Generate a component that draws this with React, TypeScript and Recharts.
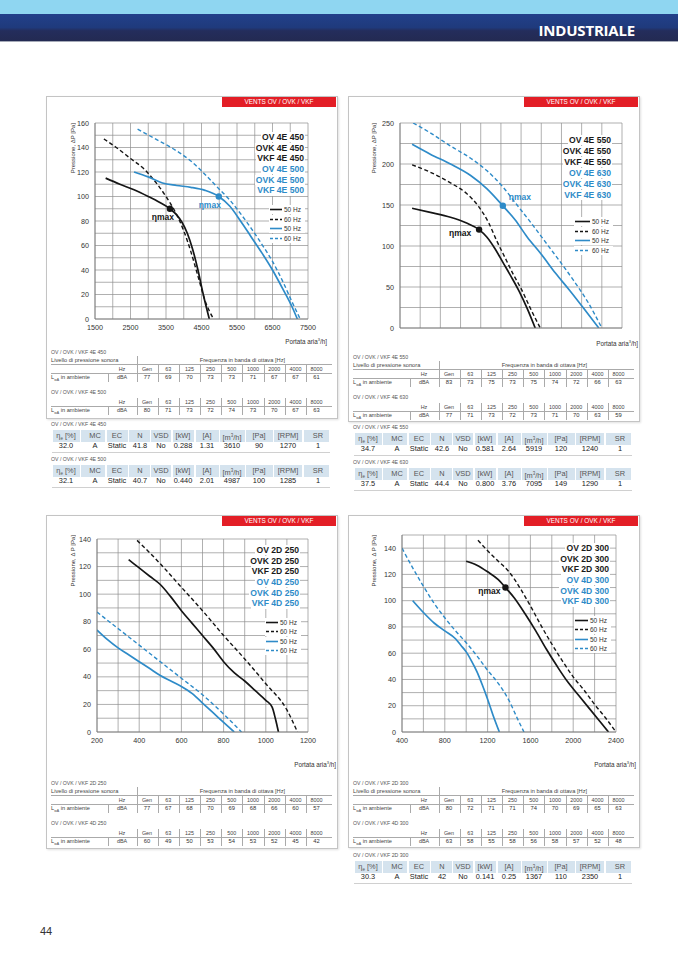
import React from "react";
import { LineChart, Line, XAxis, YAxis, CartesianGrid, ReferenceDot } from "recharts";

const FONT = "'Liberation Sans', Arial, Helvetica, sans-serif";
const BLACK = "#151515";
const BLUE = "#2e8bc8";
const PAGE_W = 678;

// ---- chart 1: OV / OVK / VKF 4E 450 (black) and 4E 500 (blue) ----
const c1Black50 = [[1800, 115], [2200, 110], [2600, 105.5], [3000, 100], [3300, 95.5], [3610, 90], [3800, 85], [3950, 79], [4100, 70], [4250, 57], [4400, 40], [4550, 20], [4720, 0]];
const c1Black60 = [[1750, 147], [2100, 140], [2500, 131], [2900, 122], [3200, 112], [3500, 100], [3750, 88], [4000, 72], [4200, 55], [4400, 35], [4600, 15], [4840, 0]];
const c1Blue50 = [[2600, 120], [3000, 116], [3400, 111], [3800, 109], [4200, 107.5], [4600, 105], [4987, 100], [5300, 92], [5600, 80], [5900, 67], [6200, 54], [6500, 40], [6800, 24], [7050, 10], [7200, 0]];
const c1Blue60 = [[2700, 155], [3200, 147], [3700, 139], [4200, 129], [4600, 118], [5000, 106], [5300, 97], [5600, 86], [5900, 74], [6200, 61], [6500, 47], [6800, 30], [7050, 14], [7280, 0]];
const c1XTicks = [1500, 2000, 2500, 3000, 3500, 4000, 4500, 5000, 5500, 6000, 6500, 7000, 7500];
const c1YTicks = [0, 10, 20, 30, 40, 50, 60, 70, 80, 90, 100, 110, 120, 130, 140, 150, 160];
const c1Models = ["OV 4E 450", "OVK 4E 450", "VKF 4E 450", "OV 4E 500", "OVK 4E 500", "VKF 4E 500"];

// ---- chart 2: 4E 550 (black) and 4E 630 (blue) ----
const c2Black50 = [[2600, 146], [3500, 141], [4500, 135], [5300, 128], [5919, 120], [6300, 111], [6700, 97], [7100, 80], [7500, 63], [7900, 45], [8300, 24], [8700, 0]];
const c2Black60 = [[2600, 199], [3500, 190], [4500, 177], [5300, 164], [5900, 148], [6400, 128], [6800, 106], [7200, 86], [7600, 66], [8000, 48], [8500, 22], [8950, 0]];
const c2Blue50 = [[2600, 224], [3500, 212], [4500, 200], [5500, 186], [6300, 170], [7095, 149], [7700, 132], [8300, 111], [9000, 90], [9700, 67], [10400, 46], [11100, 24], [11850, 0]];
const c2Blue60 = [[2650, 250], [3500, 238], [4500, 222], [5500, 207], [6300, 192], [7100, 172], [7800, 150], [8500, 128], [9200, 105], [9900, 82], [10600, 58], [11300, 32], [12000, 0]];
const c2XTicks = [2000, 3000, 4000, 5000, 6000, 7000, 8000, 9000, 10000, 11000, 12000, 13000];
const c2YTicks = [0, 25, 50, 75, 100, 125, 150, 175, 200, 225, 250];
const c2Models = ["OV 4E 550", "OVK 4E 550", "VKF 4E 550", "OV 4E 630", "OVK 4E 630", "VKF 4E 630"];

// ---- chart 3: 2D 250 (black) and 4D 250 (blue) ----
const c3Black50 = [[350, 125], [400, 119], [450, 113], [500, 107], [550, 98], [600, 88], [650, 79], [700, 70], [750, 61], [800, 51], [850, 43], [900, 37], [950, 30], [1000, 23], [1030, 18], [1045, 10], [1060, 0]];
const c3Black60 = [[390, 139], [450, 130], [500, 122], [600, 105], [700, 88], [800, 70], [900, 53], [1000, 35], [1100, 16], [1150, 0]];
const c3Blue50 = [[200, 74], [250, 67], [300, 61], [350, 56], [400, 51], [450, 46], [500, 41], [550, 37], [600, 33], [650, 28], [700, 21], [750, 14], [800, 7], [850, 0]];
const c3Blue60 = [[200, 87], [300, 75], [400, 63], [500, 51], [600, 39], [700, 27], [800, 13], [885, 0]];
const c3XTicks = [200, 300, 400, 500, 600, 700, 800, 900, 1000, 1100, 1200];
const c3YTicks = [0, 10, 20, 30, 40, 50, 60, 70, 80, 90, 100, 110, 120, 130, 140];
const c3Models = ["OV 2D 250", "OVK 2D 250", "VKF 2D 250", "OV 4D 250", "OVK 4D 250", "VKF 4D 250"];

// ---- chart 4: 2D 300 (black) and 4D 300 (blue) ----
const c4Black50 = [[1000, 130], [1100, 127], [1200, 122], [1300, 116], [1367, 110], [1450, 102], [1550, 90], [1650, 77], [1750, 63], [1850, 50], [1950, 38], [2050, 28], [2150, 18], [2250, 8], [2330, 0]];
const c4Black60 = [[1110, 146], [1200, 138], [1300, 130], [1400, 122], [1500, 110], [1600, 96], [1700, 81], [1800, 67], [1900, 54], [2000, 42], [2100, 32], [2200, 21], [2300, 11], [2400, 0]];
const c4Blue50 = [[500, 100], [600, 91], [700, 83], [800, 77], [900, 71], [950, 66], [1000, 61], [1050, 54], [1100, 46], [1150, 36], [1200, 25], [1250, 13], [1310, 0]];
const c4Blue60 = [[400, 140], [500, 125], [600, 111], [700, 98], [800, 87], [900, 77], [1000, 68], [1100, 58], [1200, 47], [1300, 37], [1400, 24], [1480, 10], [1540, 0]];
const c4XTicks = [400, 600, 800, 1000, 1200, 1400, 1600, 1800, 2000, 2200, 2400];
const c4YTicks = [0, 10, 20, 30, 40, 50, 60, 70, 80, 90, 100, 110, 120, 130, 140, 150];
const c4Models = ["OV 2D 300", "OVK 2D 300", "VKF 2D 300", "OV 4D 300", "OVK 4D 300", "VKF 4D 300"];

// ---- sound pressure tables ----
const bands = ["Gen", "63", "125", "250", "500", "1000", "2000", "4000", "8000"];
const snd4E450 = [77, 69, 70, 73, 73, 71, 67, 67, 61];
const snd4E500 = [80, 71, 73, 72, 74, 73, 70, 67, 63];
const snd4E550 = [83, 73, 75, 73, 75, 74, 72, 66, 63];
const snd4E630 = [77, 71, 73, 72, 73, 71, 70, 63, 59];
const snd2D250 = [77, 67, 68, 70, 69, 68, 66, 60, 57];
const snd4D250 = [60, 49, 50, 53, 54, 53, 52, 45, 42];
const snd2D300 = [80, 72, 71, 71, 74, 70, 69, 65, 63];
const snd4D300 = [63, 58, 55, 58, 56, 58, 57, 52, 48];

// ---- efficiency tables ----
const eff4E450 = ["32.0", "A", "Static", "41.8", "No", "0.288", "1.31", "3610", "90", "1270", "1"];
const eff4E500 = ["32.1", "A", "Static", "40.7", "No", "0.440", "2.01", "4987", "100", "1285", "1"];
const eff4E550 = ["34.7", "A", "Static", "42.6", "No", "0.581", "2.64", "5919", "120", "1240", "1"];
const eff4E630 = ["37.5", "A", "Static", "44.4", "No", "0.800", "3.76", "7095", "149", "1290", "1"];
const eff2D300 = ["30.3", "A", "Static", "42", "No", "0.141", "0.25", "1367", "110", "2350", "1"];

const EFF_COLS = [20, 49, 71, 94, 115, 137, 161, 186, 213, 242, 272];
const SND_COL0 = 101;
const SND_STEP = 21.2;

type Series = { data: number[][]; color: string; dashed: boolean };
type Eta = { x: number; y: number; color: string; dx: number; dy: number };
type ChartCfg = {
  plotX: number; plotY: number; plotW: number; plotH: number;
  xDomain: [number, number]; xTicks: number[]; xStart: number; xLabelStep: number;
  yDomain: [number, number]; yTicks: number[]; yLabelStep: number; yMaxLabel: number;
  series: Series[]; etas: Eta[];
};

const seriesOf = (b50: number[][], b60: number[][], u50: number[][], u60: number[][]): Series[] => [
  { data: b50, color: BLACK, dashed: false },
  { data: b60, color: BLACK, dashed: true },
  { data: u50, color: BLUE, dashed: false },
  { data: u60, color: BLUE, dashed: true },
];

const chart1: ChartCfg = {
  plotX: 95, plotY: 123, plotW: 213, plotH: 196,
  xDomain: [1500, 7500], xTicks: c1XTicks, xStart: 1500, xLabelStep: 1000,
  yDomain: [0, 160], yTicks: c1YTicks, yLabelStep: 20, yMaxLabel: 160,
  series: seriesOf(c1Black50, c1Black60, c1Blue50, c1Blue60),
  etas: [
    { x: 3610, y: 90, color: BLACK, dx: -7, dy: 9 },
    { x: 4987, y: 100, color: BLUE, dx: -9, dy: 9.5 },
  ],
};
const chart2: ChartCfg = {
  plotX: 400, plotY: 123, plotW: 222, plotH: 205,
  xDomain: [2000, 13000], xTicks: c2XTicks, xStart: 2000, xLabelStep: 0,
  yDomain: [0, 250], yTicks: c2YTicks, yLabelStep: 50, yMaxLabel: 250,
  series: seriesOf(c2Black50, c2Black60, c2Blue50, c2Blue60),
  etas: [
    { x: 5919, y: 120, color: BLACK, dx: -19, dy: 4.5 },
    { x: 7095, y: 149, color: BLUE, dx: 17, dy: -8 },
  ],
};
const chart3: ChartCfg = {
  plotX: 97, plotY: 539, plotW: 211, plotH: 193,
  xDomain: [200, 1200], xTicks: c3XTicks, xStart: 200, xLabelStep: 200,
  yDomain: [0, 140], yTicks: c3YTicks, yLabelStep: 20, yMaxLabel: 140,
  series: seriesOf(c3Black50, c3Black60, c3Blue50, c3Blue60),
  etas: [],
};
const chart4: ChartCfg = {
  plotX: 402, plotY: 535, plotW: 214, plotH: 197,
  xDomain: [400, 2400], xTicks: c4XTicks, xStart: 400, xLabelStep: 400,
  yDomain: [0, 150], yTicks: c4YTicks, yLabelStep: 20, yMaxLabel: 140,
  series: seriesOf(c4Black50, c4Black60, c4Blue50, c4Blue60),
  etas: [{ x: 1367, y: 110, color: BLACK, dx: -16, dy: 4.5 }],
};

function Txt({ x, y, children, size = 5.5, anchor = "middle", color = "#444", bold = false, bg }: any) {
  const style: any = {
    position: "absolute", top: y - size * 0.6, fontSize: size, lineHeight: `${size * 1.2}px`,
    whiteSpace: "nowrap", color, fontWeight: bold ? 700 : 400,
  };
  if (bg) { style.background = bg; style.padding = "0 1px"; }
  if (anchor === "middle") { style.left = x; style.transform = "translateX(-50%)"; }
  else if (anchor === "start") style.left = x;
  else style.right = PAGE_W - x;
  return <div style={style}>{children}</div>;
}

function Rule({ x, y, w, h, color = "#aaaaaa" }: any) {
  return <div style={{ position: "absolute", left: x, top: y, width: w, height: h, background: color }} />;
}

function etaLabel(dx: number, dy: number, color: string) {
  return (props: any) => {
    const vb = props.viewBox || {};
    const cx = (vb.x ?? 0) + (vb.width ?? 0) / 2;
    const cy = (vb.y ?? 0) + (vb.height ?? 0) / 2;
    return (
      <text x={cx + dx} y={cy + dy} fill={color} fontSize={8.5} fontWeight="bold" fontFamily={FONT}
        textAnchor="middle" dominantBaseline="middle">ηmax</text>
    );
  };
}

function PerfChart({ c }: { c: ChartCfg }) {
  const yW = 24, xH = 17, mt = 6, mr = 14;
  const w = c.plotW + yW + mr;
  const h = c.plotH + mt + xH;
  const tick = { fontSize: 7.2, fill: "#333", fontFamily: FONT };
  const axisLine = { stroke: "#7a7a7a", strokeWidth: 0.8 };
  return (
    <div style={{ position: "absolute", left: c.plotX - yW, top: c.plotY - mt, width: w, height: h }}>
      <LineChart width={w} height={h} margin={{ top: mt, right: mr, bottom: 0, left: 0 }}>
        <CartesianGrid stroke="#8e8e8e" strokeWidth={0.7} />
        <XAxis type="number" dataKey="x" domain={c.xDomain} ticks={c.xTicks} interval={0} allowDataOverflow
          height={xH} tickSize={0} tickMargin={5.5} axisLine={axisLine} tickLine={false} tick={tick}
          tickFormatter={(v: number) => (c.xLabelStep && (v - c.xStart) % c.xLabelStep === 0 ? String(v) : "")} />
        <YAxis type="number" domain={c.yDomain} ticks={c.yTicks} interval={0} allowDataOverflow
          width={yW} tickSize={0} tickMargin={6} axisLine={axisLine} tickLine={false} tick={tick}
          tickFormatter={(v: number) => (v % c.yLabelStep === 0 && v <= c.yMaxLabel ? String(v) : "")} />
        {c.series.map((s, i) => (
          <Line key={i} data={s.data.map(([x, y]) => ({ x, y }))} dataKey="y" type="monotone"
            stroke={s.color} strokeWidth={s.dashed ? 1.4 : 1.7}
            strokeDasharray={s.dashed ? "4 2.6" : undefined}
            dot={false} activeDot={false} isAnimationActive={false} />
        ))}
        {c.etas.map((e, i) => (
          <ReferenceDot key={i} x={e.x} y={e.y} r={3.2} fill={e.color} stroke="none"
            label={etaLabel(e.dx, e.dy, e.color)} />
        ))}
      </LineChart>
    </div>
  );
}

function ChartLegend({ right, top, step, models, rows, sampleX, sampleW }: any) {
  const hz = [
    { t: "50 Hz", color: BLACK, dashed: false },
    { t: "60 Hz", color: BLACK, dashed: true },
    { t: "50 Hz", color: BLUE, dashed: false },
    { t: "60 Hz", color: BLUE, dashed: true },
  ];
  return (
    <>
      {models.map((m: string, i: number) => (
        <Txt key={m} x={right} y={top + i * step} anchor="end" size={8.6} bold bg="#fff"
          color={i < 3 ? "#1a1a1a" : BLUE}>{m}</Txt>
      ))}
      {hz.map((r, i) => (
        <div key={i} style={{ position: "absolute", left: sampleX - 1, top: rows[i] - 4.5, height: 9, width: sampleW + 24, background: "#fff" }}>
          <svg width={sampleW} height={9} style={{ position: "absolute", left: 1, top: 0 }}>
            <line x1={0} y1={4.5} x2={sampleW} y2={4.5} stroke={r.color} strokeWidth={1.6}
              strokeDasharray={r.dashed ? "3 2" : undefined} />
          </svg>
          <div style={{ position: "absolute", left: sampleW + 3, top: 0, fontSize: 6.5, lineHeight: "9px", color: "#333", whiteSpace: "nowrap" }}>{r.t}</div>
        </div>
      ))}
    </>
  );
}

function AxisTitles({ yx, yTop, yText, xRight, xY }: any) {
  return (
    <>
      <div style={{
        position: "absolute", left: yx - 3.5, top: yTop, fontSize: 6, lineHeight: "7px", color: "#333",
        writingMode: "vertical-rl", transform: "rotate(180deg)", whiteSpace: "nowrap",
      }}>{yText}</div>
      <Txt x={xRight} y={xY} anchor="end" size={6.3} color="#333">Portata aria<sup style={{ fontSize: 4 }}>3</sup>/h]</Txt>
    </>
  );
}

function Panel({ x, y, w, h }: any) {
  return (
    <>
      <div style={{ position: "absolute", left: x, top: y, width: w, height: h, border: "1px solid #c4c4c4", boxSizing: "border-box", boxShadow: "1px 1px 2px rgba(0,0,0,0.12)" }} />
      <div style={{
        position: "absolute", left: x + w - 116, top: y + 1, width: 114, height: 10, background: "#e31e26",
        color: "#fff", fontSize: 6.4, lineHeight: "10px", textAlign: "center", whiteSpace: "nowrap",
      }}>VENTS OV / OVK / VKF</div>
    </>
  );
}

function Lwa() {
  return <span>L<sub style={{ fontSize: 3.5 }}>wA</sub> in ambiente</span>;
}

function SoundTable({ px, top, blocks }: any) {
  const out: any[] = [];
  blocks.forEach((b: any, bi: number) => {
    const by = top + bi * 40;
    const hzY = bi === 0 ? by + 17 : by + 10;
    const lwY = hzY + 8.5;
    out.push(<Txt key={`c${bi}`} x={px + 5} y={by} anchor="start" size={5.2} color="#555">{b.caption}</Txt>);
    if (bi === 0) {
      out.push(<Txt key="liv" x={px + 5} y={by + 8} anchor="start" size={5.7} color="#444">Livello di pressione sonora</Txt>);
      out.push(<Txt key="freq" x={px + SND_COL0 + SND_STEP * 4.5} y={by + 8} size={5.7} color="#444">Frequenza in banda di ottava [Hz]</Txt>);
      out.push(<Rule key="hl0" x={px + 5} y={by + 12} w={281} h={0.6} />);
      out.push(<Rule key="vs0" x={px + 91} y={by + 4} w={0.6} h={8} />);
    }
    out.push(<Rule key={`hl${bi}`} x={px + 5} y={hzY + 4.3} w={281} h={0.6} />);
    out.push(<Rule key={`vd${bi}`} x={px + 91} y={hzY - 4} w={0.6} h={17} />);
    out.push(<Rule key={`vl${bi}`} x={px + 62} y={lwY - 4} w={0.6} h={8} />);
    out.push(<Txt key={`hz${bi}`} x={px + 76} y={hzY} size={5.4}>Hz</Txt>);
    out.push(<Txt key={`db${bi}`} x={px + 76} y={lwY} size={5.4}>dBA</Txt>);
    out.push(<Txt key={`lw${bi}`} x={px + 5} y={lwY} anchor="start" size={5.7}><Lwa /></Txt>);
    bands.forEach((f, i) => {
      const cx = px + SND_COL0 + i * SND_STEP;
      out.push(<Txt key={`f${bi}${i}`} x={cx} y={hzY} size={5.4}>{f}</Txt>);
      out.push(<Txt key={`v${bi}${i}`} x={cx} y={lwY} size={5.8} color="#333">{b.values[i]}</Txt>);
      if (i < bands.length - 1) out.push(<Rule key={`s${bi}${i}`} x={cx + SND_STEP / 2} y={hzY - 4} w={0.6} h={17} />);
    });
  });
  return <>{out}</>;
}

function EffTable({ px, top, caption, values }: any) {
  const heads: any[] = [
    <span>η<sub style={{ fontSize: 4.5 }}>e</sub> [%]</span>, "MC", "EC", "N", "VSD", "[kW]", "[A]",
    <span>[m<sup style={{ fontSize: 4.5 }}>3</sup>/h]</span>, "[Pa]", "[RPM]", "SR",
  ];
  const edges = EFF_COLS.map((c, i) => (i === 0 ? 6 : (EFF_COLS[i - 1] + c) / 2));
  edges.push(284);
  return (
    <>
      <Txt x={px + 5} y={top} anchor="start" size={5.2} color="#555">{caption}</Txt>
      {EFF_COLS.map((c, i) => (
        <div key={`b${i}`} style={{ position: "absolute", left: px + edges[i] + 0.8, top: top + 6, width: edges[i + 1] - edges[i] - 1.6, height: 12, background: "#d5e3ee" }} />
      ))}
      {EFF_COLS.map((c, i) => (
        <Txt key={`h${i}`} x={px + c} y={top + 12} size={7.4} color="#555">{heads[i]}</Txt>
      ))}
      {EFF_COLS.map((c, i) => (
        <Txt key={`v${i}`} x={px + c} y={top + 22.5} size={7.4} color="#222">{values[i]}</Txt>
      ))}
      <Rule x={px + 6} y={top + 28} w={278} h={0.6} color="#d0d0d0" />
    </>
  );
}

function Header() {
  return (
    <>
      <div style={{ position: "absolute", left: 0, top: 0, width: PAGE_W, height: 14, background: "#8fd6f1" }} />
      <div style={{ position: "absolute", left: 0, top: 14, width: PAGE_W, height: 27, background: "linear-gradient(#22408a 0%, #1f3a7c 50%, #242d5c 62%, #232a52 100%)" }} />
      <div style={{ position: "absolute", left: 0, top: 41, width: PAGE_W, height: 1, background: "#a5aab8" }} />
      <div style={{ position: "absolute", right: PAGE_W - 635, top: 21, fontFamily: "'Open Sans', sans-serif", fontWeight: 700, fontSize: 15, lineHeight: "18px", color: "#fff", letterSpacing: -0.2 }}>INDUSTRIALE</div>
    </>
  );
}

export default function App() {
  return (
    <div style={{ position: "absolute", left: 0, top: 0, width: PAGE_W, height: 959, background: "#fff", overflow: "hidden", fontFamily: FONT }}>
      <Header />

      <Panel x={46} y={96} w={292} h={323} />
      <Panel x={348} y={96} w={292} h={326} />
      <Panel x={46} y={515} w={292} h={334} />
      <Panel x={348} y={515} w={292} h={333} />

      <PerfChart c={chart1} />
      <PerfChart c={chart2} />
      <PerfChart c={chart3} />
      <PerfChart c={chart4} />

      <ChartLegend right={305} top={137} step={10.7} models={c1Models} rows={[209, 219, 228.5, 238]} sampleX={270} sampleW={12} />
      <ChartLegend right={612} top={140} step={11} models={c2Models} rows={[221, 231, 240.7, 250.7]} sampleX={575} sampleW={15} />
      <ChartLegend right={300} top={550} step={10.7} models={c3Models} rows={[622, 631.7, 641, 650]} sampleX={266} sampleW={12} />
      <ChartLegend right={610} top={548} step={10.7} models={c4Models} rows={[620, 629, 639, 648]} sampleX={575} sampleW={13} />

      <AxisTitles yx={73} yTop={123} yText="Pressione, ΔP [Pa]" xRight={327} xY={340} />
      <AxisTitles yx={374} yTop={123} yText="Pressione, ΔP [Pa]" xRight={638} xY={342} />
      <AxisTitles yx={73} yTop={535} yText="Pressione, Δ P [Pa]" xRight={336} xY={763} />
      <AxisTitles yx={374} yTop={535} yText="Pressione, Δ P [Pa]" xRight={636} xY={763} />

      <SoundTable px={46} top={352} blocks={[{ caption: "OV / OVK / VKF 4E 450", values: snd4E450 }, { caption: "OV / OVK / VKF 4E 500", values: snd4E500 }]} />
      <SoundTable px={348} top={357} blocks={[{ caption: "OV / OVK / VKF 4E 550", values: snd4E550 }, { caption: "OV / OVK / VKF 4E 630", values: snd4E630 }]} />
      <SoundTable px={46} top={783} blocks={[{ caption: "OV / OVK / VKF 2D 250", values: snd2D250 }, { caption: "OV / OVK / VKF 4D 250", values: snd4D250 }]} />
      <SoundTable px={348} top={783} blocks={[{ caption: "OV / OVK / VKF 2D 300", values: snd2D300 }, { caption: "OV / OVK / VKF 4D 300", values: snd4D300 }]} />

      <EffTable px={46} top={424} caption="OV / OVK / VKF 4E 450" values={eff4E450} />
      <EffTable px={46} top={459} caption="OV / OVK / VKF 4E 500" values={eff4E500} />
      <EffTable px={348} top={427} caption="OV / OVK / VKF 4E 550" values={eff4E550} />
      <EffTable px={348} top={462} caption="OV / OVK / VKF 4E 630" values={eff4E630} />
      <EffTable px={348} top={855} caption="OV / OVK / VKF 2D 300" values={eff2D300} />

      <div style={{ position: "absolute", left: 40, top: 924, fontSize: 11, lineHeight: "14px", color: "#333" }}>44</div>
    </div>
  );
}
